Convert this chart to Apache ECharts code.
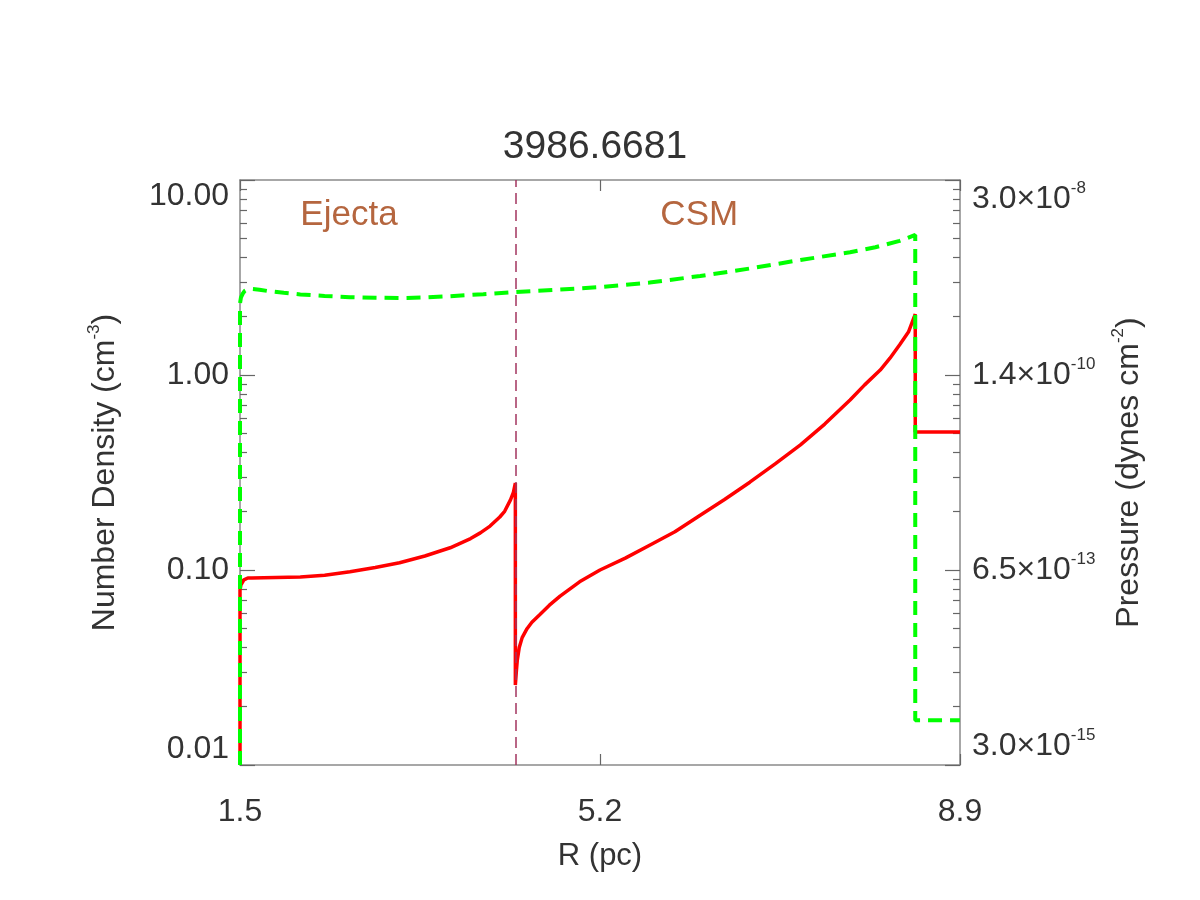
<!DOCTYPE html>
<html>
<head>
<meta charset="utf-8">
<title>3986.6681</title>
<script src="https://cdn.jsdelivr.net/npm/echarts@6.0.0/dist/echarts.min.js"></script>
<style>
    html, body { margin: 0; padding: 0; background: #fff; }
    #container { width: 1200px; height: 900px; }
</style>
</head>
<body>
<div id="container"></div>
<script>
let titleText = '3986.6681'

// radius (pc) and number density (cm^-3)
let densR = [1.50, 1.50, 1.51, 1.54, 1.58, 1.62, 2.12, 2.37, 2.63, 2.89, 3.14, 3.40, 3.66, 3.87, 3.97, 4.07, 4.17, 4.22, 4.28, 4.31, 4.33,
    4.33, 4.34, 4.35, 4.37, 4.40, 4.45, 4.50, 4.58, 4.68, 4.79, 4.99, 5.20, 5.46, 5.71, 5.97, 6.23, 6.48, 6.74, 7.00, 7.26, 7.51, 7.77, 7.92,
    8.08, 8.18, 8.28, 8.37, 8.44,
    8.44, 8.90]
let densV = [0.01, 0.079, 0.084, 0.089, 0.091, 0.091, 0.092, 0.094, 0.098, 0.103, 0.109, 0.118, 0.130, 0.145, 0.155, 0.168, 0.187, 0.200, 0.229, 0.25, 0.279,
    0.0257, 0.030, 0.0345, 0.040, 0.045, 0.050, 0.054, 0.059, 0.066, 0.0735, 0.087, 0.1, 0.115, 0.134, 0.157, 0.191, 0.23, 0.282, 0.35, 0.438, 0.56, 0.744, 0.89,
    1.06, 1.22, 1.43, 1.66, 2.05,
    0.51, 0.51]

// radius (pc) and pressure (dynes cm^-2)
let presR = [1.50, 1.50, 1.51, 1.53, 1.55, 1.59, 1.70, 1.80, 1.95, 2.12, 2.37, 2.63, 2.89, 3.14, 3.40, 3.66, 4.00, 4.33, 4.76, 5.20,
    5.71, 6.23, 6.74, 7.26, 7.77, 8.03, 8.28, 8.44, 8.44, 8.90]
let presV = [3.0e-15, 1.0e-9, 1.18e-9, 1.32e-9, 1.42e-9, 1.50e-9, 1.46e-9, 1.40e-9, 1.34e-9, 1.28e-9, 1.23e-9, 1.19e-9, 1.17e-9, 1.16e-9, 1.18e-9,
    1.22e-9, 1.29e-9, 1.37e-9, 1.46e-9, 1.57e-9, 1.78e-9, 2.13e-9, 2.62e-9, 3.31e-9, 4.1e-9, 4.7e-9, 5.6e-9, 6.6e-9, 1.03e-14, 1.03e-14]

let contactR = 4.33
let regionNames = ['Ejecta', 'CSM']
let regionR = [2.62, 6.22]
let regionD = [6.6, 6.6]

let xTicks = [1.5, 5.2, 8.9]
let presMant = ['3.0×10', '6.5×10', '1.4×10', '3.0×10']
let presExp = ['-15', '-13', '-10', '-8']

let font = "'Liberation Sans', Arial, sans-serif"
let txt = '#333'
let axisGray = '#8a8a8a'
let tickGray = '#666'

// minor ticks 2..9 of each decade, in log10 units
let minorTicks = []
for (let e = -2; e < 1; e++) {
    for (let k = 2; k <= 9; k++) {
        minorTicks.push(e + Math.log10(k))
    }
}

let densData = densR.map(function (r, i) { return [r, densV[i]] })
let presData = presR.map(function (r, i) { return [r, presV[i]] })
let regionPoints = regionNames.map(function (n, i) {
    return { name: n, coord: [regionR[i], regionD[i]], value: n }
})

let supRich = {
    a: { fontSize: 32, fontFamily: font, color: txt, lineHeight: 38 },
    sup: { fontSize: 17, fontFamily: font, color: txt, verticalAlign: 'top', lineHeight: 38 }
}

let minorAxis = function (pos) {
    return {
        type: 'value', position: pos, min: -2, max: 1,
        axisLine: { show: false },
        axisLabel: { show: false },
        splitLine: { show: false },
        axisTick: { show: true, inside: true, length: 7, customValues: minorTicks, lineStyle: { color: tickGray, width: 1.2 } }
    }
}

let option = {
    backgroundColor: '#fff',
    animation: false,
    title: {
        text: titleText,
        left: 590,
        textAlign: 'center',
        top: 123,
        textStyle: { fontSize: 39, fontWeight: 'normal', fontFamily: font, color: txt }
    },
    grid: { left: 240, right: 240, top: 180, bottom: 135, containLabel: false },
    xAxis: [
        {
            type: 'value', min: 1.5, max: 8.9, position: 'bottom',
            name: 'R (pc)', nameLocation: 'middle', nameGap: 76,
            nameTextStyle: { fontSize: 31, fontFamily: font, color: txt },
            axisLine: { show: true, onZero: false, lineStyle: { color: axisGray, width: 1.5 } },
            axisTick: { show: true, inside: true, length: 11, customValues: xTicks, lineStyle: { color: tickGray, width: 1.2 } },
            axisLabel: {
                customValues: xTicks, margin: 31, fontSize: 32, fontFamily: font, color: txt,
                formatter: function (v) { return v.toFixed(1) }
            },
            splitLine: { show: false }
        },
        {
            type: 'value', min: 1.5, max: 8.9, position: 'top',
            axisLine: { show: true, onZero: false, lineStyle: { color: axisGray, width: 1.5 } },
            axisTick: { show: true, inside: true, length: 11, customValues: xTicks, lineStyle: { color: tickGray, width: 1.2 } },
            axisLabel: { show: false },
            splitLine: { show: false }
        }
    ],
    yAxis: [
        {
            type: 'log', logBase: 10, min: 0.01, max: 10, position: 'left',
            name: '{a|Number Density (cm}{sup|-3}{a|)}', nameLocation: 'middle', nameRotate: 90, nameGap: 116,
            nameTextStyle: { rich: supRich },
            axisLine: { show: true, onZero: false, lineStyle: { color: axisGray, width: 1.5 } },
            axisTick: { show: true, inside: true, length: 15, lineStyle: { color: tickGray, width: 1.2 } },
            axisLabel: {
                margin: 11, fontSize: 32, fontFamily: font, color: txt,
                verticalAlignMaxLabel: 'top', verticalAlignMinLabel: 'bottom',
                formatter: function (v) { return Number(v).toFixed(2) }
            },
            splitLine: { show: false }
        },
        minorAxis('left'),
        {
            // pressure scale, labelled by the right axis below
            type: 'log', logBase: 10, min: 3.0e-15, max: 3.0e-8, position: 'right', show: false
        },
        {
            type: 'value', min: -2, max: 1, interval: 1, position: 'right',
            name: '{a|Pressure (dynes cm}{sup|-2}{a|)}', nameLocation: 'middle', nameRotate: 90, nameGap: 150,
            nameTextStyle: { rich: supRich },
            axisLine: { show: true, onZero: false, lineStyle: { color: axisGray, width: 1.5 } },
            axisTick: { show: true, inside: true, length: 15, lineStyle: { color: tickGray, width: 1.2 } },
            axisLabel: {
                margin: 12, rich: supRich,
                verticalAlignMaxLabel: 'top', verticalAlignMinLabel: 'bottom',
                formatter: function (v) {
                    let i = Math.round(v) + 2
                    return '{a|' + presMant[i] + '}{sup|' + presExp[i] + '}'
                }
            },
            splitLine: { show: false }
        },
        minorAxis('right')
    ],
    series: [
        {
            name: 'density',
            type: 'line',
            xAxisIndex: 0,
            yAxisIndex: 0,
            data: densData,
            symbol: 'none',
            z: 3,
            lineStyle: { color: '#ff0000', width: 3.5 },
            markLine: {
                silent: true,
                symbol: 'none',
                label: { show: false },
                lineStyle: { color: '#a3345f', width: 1.5, type: [11, 6] },
                data: [{ xAxis: contactR }]
            },
            markPoint: {
                silent: true,
                symbolSize: 0,
                label: {
                    show: true, position: 'inside', fontSize: 35, fontFamily: font, color: '#b5663f',
                    formatter: function (p) { return p.name }
                },
                data: regionPoints
            }
        },
        {
            name: 'pressure',
            type: 'line',
            xAxisIndex: 0,
            yAxisIndex: 2,
            data: presData,
            symbol: 'none',
            z: 4,
            lineStyle: { color: '#00ff00', width: 4, type: [14, 8] }
        }
    ]
}

let myChart = echarts.init(document.getElementById('container'))
myChart.setOption(option)
</script>
</body>
</html>
